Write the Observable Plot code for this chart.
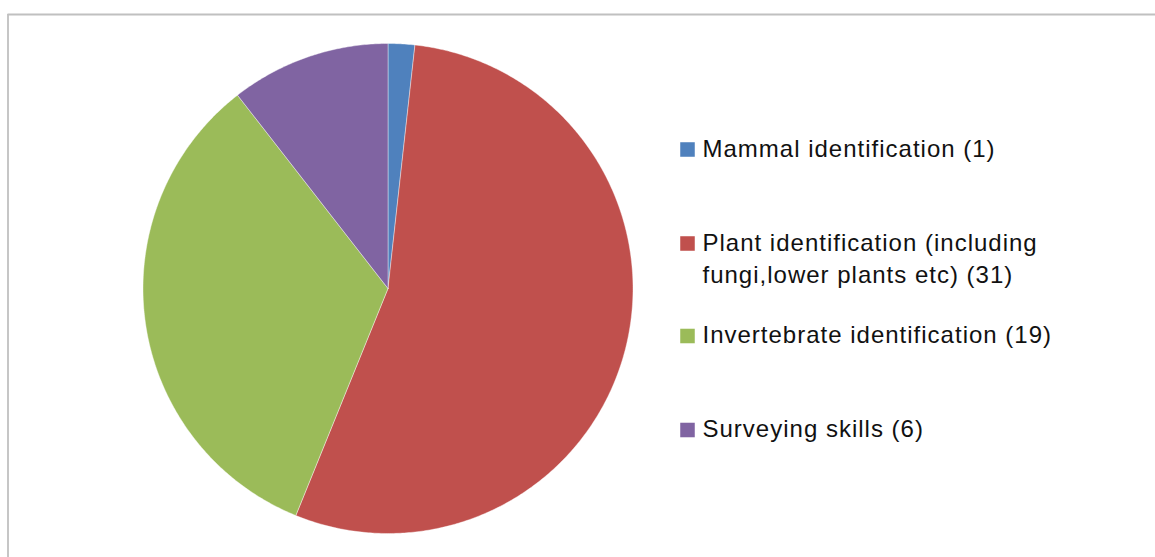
<!DOCTYPE html>
<html><head><meta charset="utf-8">
<script src="https://cdn.jsdelivr.net/npm/d3@7"></script>
<script src="https://cdn.jsdelivr.net/npm/@observablehq/plot@0.6"></script>
<style>
html,body{margin:0;padding:0;background:#fff;overflow:hidden;}
#chart svg text{letter-spacing:1px;}
</style></head><body><div id="chart"></div>
<script>
// ---- data ----
const categories = ["Mammal identification", "Plant identification (including fungi,lower plants etc)", "Invertebrate identification", "Surveying skills"];
const counts = [1, 31, 19, 6];
const legendLabels = ["Mammal identification (1)", "Plant identification (including\nfungi,lower plants etc) (31)", "Invertebrate identification (19)", "Surveying skills (6)"];
const colors = ["#4F81BD", "#C0504D", "#9BBB59", "#8064A2"];

// ---- layout ----
const W = 1155, H = 557;
const cx = 387.5, cy = 288, R = 245;
const legendSquareX = 687, legendTextX = 702;
const legendSquareY = [149, 243, 335.5, 429.5];
const legendTextY = [146.5, 256.5, 332.5, 426];

// build slice polygons from the counts
const total = d3.sum(counts);
const slices = [];
let acc = 0;
counts.forEach((v, i) => {
  const a0 = acc / total * 2 * Math.PI;
  acc += v;
  const a1 = acc / total * 2 * Math.PI;
  const n = Math.max(4, Math.ceil((a1 - a0) / (Math.PI / 360)));
  slices.push({k: categories[i], x: cx, y: cy});
  for (let j = 0; j <= n; j++) {
    const a = a0 + (a1 - a0) * j / n;
    slices.push({k: categories[i], x: cx + R * Math.sin(a), y: cy - R * Math.cos(a)});
  }
  slices.push({k: categories[i], x: cx, y: cy});
});
const legend = categories.map((c, i) => ({k: c, label: legendLabels[i], sy: legendSquareY[i], ty: legendTextY[i]}));

const plot = Plot.plot({
  width: W, height: H,
  margin: 0,
  x: {type: "identity", axis: null},
  y: {type: "identity", axis: null},
  color: {domain: categories, range: colors},
  style: {fontFamily: "'Liberation Sans', Arial, sans-serif", background: "#fff"},
  marks: [
    Plot.ruleY([14], {x1: 7.5, x2: W, stroke: "#c0c0c0", strokeWidth: 1.8}),
    Plot.ruleX([7.5], {y1: 14, y2: H, stroke: "#c0c0c0", strokeWidth: 1.8}),
    Plot.line(slices, {x: "x", y: "y", z: "k", fill: "k", stroke: "white", strokeWidth: 0.4, curve: "linear"}),
    Plot.dot(legend, {x: legendSquareX, y: "sy", symbol: "square", r: 8.2, fill: "k", stroke: null}),
    Plot.text(legend, {x: legendTextX, y: "ty", text: "label", textAnchor: "start", lineAnchor: "middle", fontSize: 24, lineHeight: 1.333, fill: "#111"})
  ]
});
document.getElementById("chart").append(plot);
</script></body></html>
